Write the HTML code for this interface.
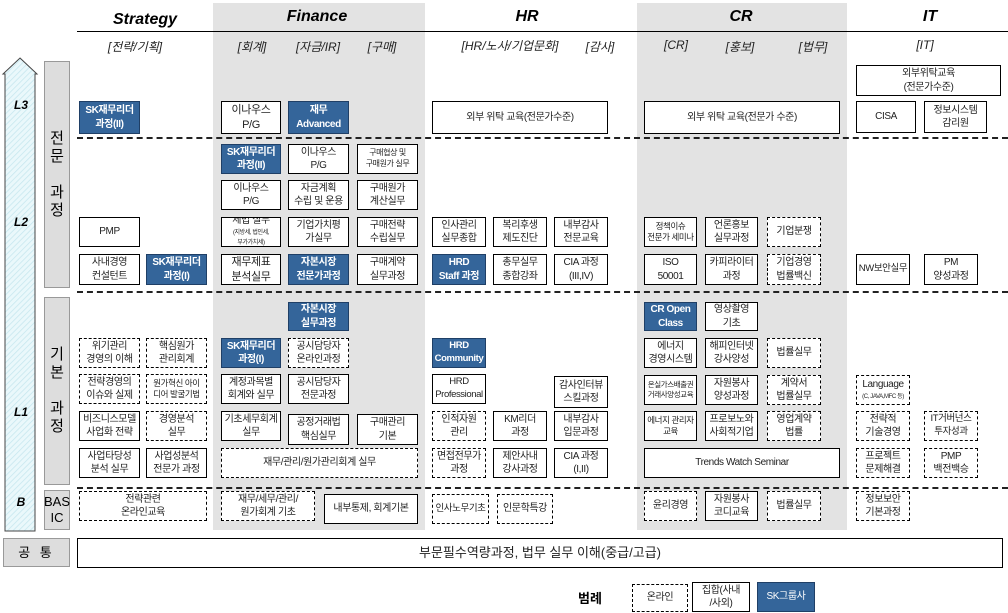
<!DOCTYPE html>
<html><head><meta charset="utf-8"><style>
body{margin:0;width:1008px;height:613px;position:relative;background:#fff;overflow:hidden;font-family:"Liberation Sans","Noto Sans CJK KR",sans-serif;}
div{box-sizing:border-box;}
.p{position:absolute;background:#e3e3e3;}
.b{position:absolute;display:flex;align-items:center;justify-content:center;text-align:center;border:1.5px solid #000;background:#fff;font-size:10px;line-height:1.35;color:#222;white-space:nowrap;letter-spacing:-0.4px;overflow:hidden;}
.d{border:1.5px dashed #000;}
.k{background:#34659a;color:#fff;font-weight:bold;border-color:#1f3f66;}
.h{position:absolute;font-weight:bold;font-style:italic;font-size:16px;transform:translateX(-50%);}
.s{position:absolute;font-style:italic;font-size:12px;transform:translateX(-50%);color:#222;white-space:nowrap;}
.l{position:absolute;font-style:italic;font-size:12px;font-weight:bold;transform:translateX(-50%);}
.hl{position:absolute;left:77px;right:0;border-top:2px dashed #222;height:0;}
.g{position:absolute;background:#ddd;border:1px solid #999;display:flex;align-items:center;justify-content:center;text-align:center;font-size:14px;line-height:1.2;}
.sm{font-size:8.5px;}
</style></head><body>
<div class="p" style="left:213px;top:3px;width:212px;height:527px"></div>
<div class="p" style="left:637px;top:3px;width:210px;height:527px"></div>
<div style="position:absolute;left:77px;right:0;top:31px;border-top:1.5px solid #000"></div>
<div class="h" style="left:145px;top:11px">Strategy</div>
<div class="h" style="left:317px;top:8px">Finance</div>
<div class="h" style="left:527px;top:8px">HR</div>
<div class="h" style="left:741px;top:8px">CR</div>
<div class="h" style="left:930px;top:8px">IT</div>
<div class="s" style="left:135px;top:38px">[전략/기획]</div>
<div class="s" style="left:252px;top:38px">[회계]</div>
<div class="s" style="left:318px;top:38px">[자금/IR]</div>
<div class="s" style="left:382px;top:38px">[구매]</div>
<div class="s" style="left:510px;top:37px">[HR/노사/기업문화]</div>
<div class="s" style="left:600px;top:38px">[감사]</div>
<div class="s" style="left:676px;top:38px">[CR]</div>
<div class="s" style="left:740px;top:38px">[홍보]</div>
<div class="s" style="left:813px;top:38px">[법무]</div>
<div class="s" style="left:925px;top:38px">[IT]</div>
<svg style="position:absolute;left:0;top:0" width="40" height="535"><defs><pattern id="hp" width="4" height="4" patternUnits="userSpaceOnUse" patternTransform="rotate(45)"><rect width="4" height="4" fill="#eaf8fb"/><line x1="0" y1="0" x2="0" y2="4" stroke="#c5e6ee" stroke-width="1.5"/></pattern></defs><polygon points="20,58 37,74 35,74 35,531 5,531 5,74 3,74" fill="url(#hp)" stroke="#444" stroke-width="1"/></svg>
<div class="l" style="left:21px;top:98px">L3</div>
<div class="l" style="left:21px;top:215px">L2</div>
<div class="l" style="left:21px;top:405px">L1</div>
<div class="l" style="left:21px;top:495px">B</div>
<div class="g" style="left:44px;top:61px;width:26px;height:227px;font-size:15px">전<br>문<br><br>과<br>정</div>
<div class="g" style="left:44px;top:297px;width:26px;height:188px;font-size:15px">기<br>본<br><br>과<br>정</div>
<div class="g" style="left:44px;top:490px;width:26px;height:40px;font-size:13px">BAS<br>IC</div>
<div class="hl" style="top:137px"></div>
<div class="hl" style="top:291px"></div>
<div class="hl" style="top:487px"></div>

<div class="b k" style="left:79px;top:101px;width:61px;height:33px">SK재무리더<br>과정(II)</div>
<div class="b" style="left:221px;top:101px;width:60px;height:33px;font-size:11px">이나우스<br>P/G</div>
<div class="b k" style="left:288px;top:101px;width:61px;height:33px">재무<br>Advanced</div>
<div class="b" style="left:432px;top:101px;width:176px;height:33px">외부 위탁 교육(전문가수준)</div>
<div class="b" style="left:644px;top:101px;width:196px;height:33px">외부 위탁 교육(전문가 수준)</div>
<div class="b" style="left:856px;top:65px;width:145px;height:31px">외부위탁교육<br>(전문가수준)</div>
<div class="b" style="left:856px;top:101px;width:60px;height:32px">CISA</div>
<div class="b" style="left:924px;top:101px;width:63px;height:32px">정보시스템<br>감리원</div>

<div class="b k" style="left:221px;top:144px;width:60px;height:30px">SK재무리더<br>과정(II)</div>
<div class="b" style="left:288px;top:144px;width:61px;height:30px">이나우스<br>P/G</div>
<div class="b" style="left:357px;top:144px;width:61px;height:30px;font-size:8px">구매협상 및<br>구매원가 실무</div>
<div class="b" style="left:221px;top:180px;width:60px;height:30px">이나우스<br>P/G</div>
<div class="b" style="left:288px;top:180px;width:61px;height:30px">자금계획<br>수립 및 운용</div>
<div class="b" style="left:357px;top:180px;width:61px;height:30px">구매원가<br>계산실무</div>
<div class="b" style="left:79px;top:217px;width:61px;height:30px">PMP</div>
<div class="b" style="left:221px;top:217px;width:60px;height:30px;line-height:1.05"><span>세법 실무<br><span style="font-size:6px">(지방세, 법인세,<br>부가가치세)</span></span></div>
<div class="b" style="left:288px;top:217px;width:61px;height:30px">기업가치평<br>가실무</div>
<div class="b" style="left:357px;top:217px;width:61px;height:30px">구매전략<br>수립실무</div>
<div class="b" style="left:432px;top:217px;width:54px;height:30px">인사관리<br>실무종합</div>
<div class="b" style="left:493px;top:217px;width:54px;height:30px">복리후생<br>제도진단</div>
<div class="b" style="left:554px;top:217px;width:54px;height:30px">내부감사<br>전문교육</div>
<div class="b sm" style="left:644px;top:217px;width:53px;height:30px">정책이슈<br>전문가 세미나</div>
<div class="b" style="left:705px;top:217px;width:53px;height:30px">언론홍보<br>실무과정</div>
<div class="b d" style="left:767px;top:217px;width:54px;height:30px">기업분쟁</div>
<div class="b" style="left:79px;top:254px;width:61px;height:31px">사내경영<br>컨설턴트</div>
<div class="b k" style="left:146px;top:254px;width:61px;height:31px">SK재무리더<br>과정(I)</div>
<div class="b" style="left:221px;top:254px;width:60px;height:31px;font-size:11px">재무제표<br>분석실무</div>
<div class="b k" style="left:288px;top:254px;width:61px;height:31px">자본시장<br>전문가과정</div>
<div class="b" style="left:357px;top:254px;width:61px;height:31px">구매계약<br>실무과정</div>
<div class="b k" style="left:432px;top:254px;width:54px;height:31px">HRD<br>Staff 과정</div>
<div class="b" style="left:493px;top:254px;width:54px;height:31px">총무실무<br>종합강좌</div>
<div class="b" style="left:554px;top:254px;width:54px;height:31px">CIA 과정<br>(III,IV)</div>
<div class="b" style="left:644px;top:254px;width:53px;height:31px">ISO<br>50001</div>
<div class="b" style="left:705px;top:254px;width:53px;height:31px">카피라이터<br>과정</div>
<div class="b d" style="left:767px;top:254px;width:54px;height:31px">기업경영<br>법률백신</div>
<div class="b" style="left:856px;top:254px;width:54px;height:31px;font-size:9.5px">NW보안실무</div>
<div class="b" style="left:924px;top:254px;width:54px;height:31px">PM<br>양성과정</div>

<div class="b k" style="left:288px;top:302px;width:61px;height:29px">자본시장<br>실무과정</div>
<div class="b k" style="left:644px;top:302px;width:53px;height:29px">CR Open<br>Class</div>
<div class="b" style="left:705px;top:302px;width:53px;height:29px">영상촬영<br>기초</div>

<div class="b d" style="left:79px;top:338px;width:61px;height:30px">위기관리<br>경영의 이해</div>
<div class="b d" style="left:146px;top:338px;width:61px;height:30px">핵심원가<br>관리회계</div>
<div class="b k" style="left:221px;top:338px;width:60px;height:30px">SK재무리더<br>과정(I)</div>
<div class="b d" style="left:288px;top:338px;width:61px;height:30px">공시담당자<br>온라인과정</div>
<div class="b k" style="left:432px;top:338px;width:54px;height:30px;font-size:9.5px">HRD<br>Community</div>
<div class="b" style="left:644px;top:338px;width:53px;height:30px">에너지<br>경영시스템</div>
<div class="b" style="left:705px;top:338px;width:53px;height:30px">해피인터넷<br>강사양성</div>
<div class="b d" style="left:767px;top:338px;width:54px;height:30px">법률실무</div>

<div class="b d" style="left:79px;top:374px;width:61px;height:30px">전략경영의<br>이슈와 실제</div>
<div class="b d" style="left:146px;top:374px;width:61px;height:30px;font-size:8.5px">원가혁신 아이<br>디어 발굴기법</div>
<div class="b" style="left:221px;top:374px;width:60px;height:30px">계정과목별<br>회계와 실무</div>
<div class="b" style="left:288px;top:374px;width:61px;height:30px">공시담당자<br>전문과정</div>
<div class="b" style="left:432px;top:374px;width:54px;height:30px;font-size:9.5px">HRD<br>Professional</div>
<div class="b" style="left:554px;top:376px;width:54px;height:32px">감사인터뷰<br>스킬과정</div>
<div class="b" style="left:644px;top:375px;width:53px;height:30px;font-size:7.5px">온실가스배출권<br>거래사양성교육</div>
<div class="b" style="left:705px;top:375px;width:53px;height:30px">자원봉사<br>양성과정</div>
<div class="b d" style="left:767px;top:375px;width:54px;height:30px">계약서<br>법률실무</div>
<div class="b d" style="left:856px;top:375px;width:54px;height:30px;line-height:1.1"><span>Language<br><span style="font-size:6px">(C, JAVA,MFC 등)</span></span></div>

<div class="b" style="left:79px;top:411px;width:61px;height:30px">비즈니스모델<br>사업화 전략</div>
<div class="b d" style="left:146px;top:411px;width:61px;height:30px">경영분석<br>실무</div>
<div class="b" style="left:221px;top:411px;width:60px;height:30px">기초세무회계<br>실무</div>
<div class="b" style="left:288px;top:414px;width:61px;height:31px">공정거래법<br>핵심실무</div>
<div class="b" style="left:357px;top:414px;width:61px;height:31px">구매관리<br>기본</div>
<div class="b d" style="left:432px;top:411px;width:54px;height:30px">인적자원<br>관리</div>
<div class="b" style="left:493px;top:411px;width:54px;height:30px">KM리더<br>과정</div>
<div class="b" style="left:554px;top:411px;width:54px;height:30px">내부감사<br>입문과정</div>
<div class="b sm" style="left:644px;top:411px;width:53px;height:30px">에너지 관리자<br>교육</div>
<div class="b" style="left:705px;top:411px;width:53px;height:30px">프로보노와<br>사회적기업</div>
<div class="b d" style="left:767px;top:411px;width:54px;height:30px">영업계약<br>법률</div>
<div class="b d" style="left:856px;top:411px;width:54px;height:30px">전략적<br>기술경영</div>
<div class="b d" style="left:924px;top:411px;width:54px;height:30px;font-size:9.5px">IT거버넌스<br>투자성과</div>

<div class="b" style="left:79px;top:448px;width:61px;height:30px">사업타당성<br>분석 실무</div>
<div class="b" style="left:146px;top:448px;width:61px;height:30px">사업성분석<br>전문가 과정</div>
<div class="b d" style="left:221px;top:448px;width:197px;height:30px">재무/관리/원가관리회계 실무</div>
<div class="b d" style="left:432px;top:448px;width:54px;height:30px">면접전무가<br>과정</div>
<div class="b" style="left:493px;top:448px;width:54px;height:30px">제안사내<br>강사과정</div>
<div class="b" style="left:554px;top:448px;width:54px;height:30px">CIA 과정<br>(I,II)</div>
<div class="b" style="left:644px;top:448px;width:196px;height:30px">Trends Watch Seminar</div>
<div class="b d" style="left:856px;top:448px;width:54px;height:30px">프로젝트<br>문제해결</div>
<div class="b d" style="left:924px;top:448px;width:54px;height:30px">PMP<br>백전백승</div>

<div class="b d" style="left:79px;top:491px;width:128px;height:30px">전략관련<br>온라인교육</div>
<div class="b d" style="left:221px;top:491px;width:94px;height:30px">재무/세무/관리/<br>원가회계 기초</div>
<div class="b" style="left:324px;top:494px;width:94px;height:30px">내부통제, 회계기본</div>
<div class="b d" style="left:432px;top:494px;width:57px;height:30px;font-size:9.5px">인사노무기초</div>
<div class="b d" style="left:497px;top:494px;width:56px;height:30px">인문학특강</div>
<div class="b d" style="left:644px;top:491px;width:53px;height:30px">윤리경영</div>
<div class="b" style="left:705px;top:491px;width:53px;height:30px">자원봉사<br>코디교육</div>
<div class="b d" style="left:767px;top:491px;width:54px;height:30px">법률실무</div>
<div class="b d" style="left:856px;top:491px;width:54px;height:30px">정보보안<br>기본과정</div>

<div class="g" style="left:3px;top:538px;width:67px;height:29px;font-size:13px;letter-spacing:3px">공 통</div>
<div class="b" style="left:77px;top:538px;width:926px;height:30px;font-size:13px;letter-spacing:0">부문필수역량과정, 법무 실무 이해(중급/고급)</div>
<div style="position:absolute;left:578px;top:588px;font-size:13px;font-weight:bold">범례</div>
<div class="b d" style="left:632px;top:584px;width:56px;height:28px">온라인</div>
<div class="b" style="left:692px;top:582px;width:58px;height:30px">집합(사내<br>/사외)</div>
<div class="b k" style="left:757px;top:582px;width:58px;height:30px;font-weight:normal">SK그룹사</div>
</body></html>
